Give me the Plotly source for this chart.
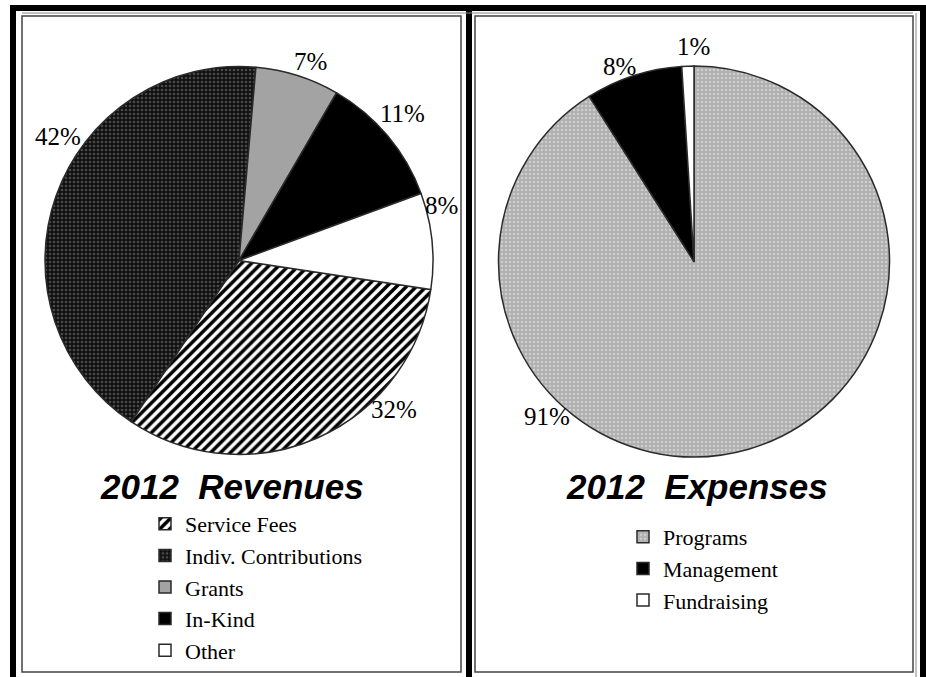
import plotly.graph_objects as go

W, H = 926, 677

# ---- data ----
rev_labels = ["Service Fees", "Indiv. Contributions", "Grants", "In-Kind", "Other"]
rev_values = [32, 42, 7, 11, 8]
exp_labels = ["Programs", "Management", "Fundraising"]
exp_values = [91, 8, 1]
rev_title = "2012  Revenues"
exp_title = "2012  Expenses"

# label placement (pixels from top-left), same order as the values
rev_label_pos = [(394, 410), (58, 136), (310, 62), (402, 113), (441, 206)]
exp_label_pos = [(547, 416), (619, 66), (693, 47)]


def px(x):
    return x / W


def py(y):
    return 1 - y / H


serif = "Liberation Serif"
sans = "Liberation Sans"

fig = go.Figure()

fig.add_trace(go.Pie(
    labels=rev_labels, values=rev_values,
    sort=False, direction="clockwise", rotation=98.6,
    domain=dict(x=[px(45), px(433)], y=[py(455), py(66)]),
    textinfo="none",
    marker=dict(
        colors=["white", "#111111", "#a3a3a3", "black", "white"],
        line=dict(color="#2a2a2a", width=1.5),
        pattern=dict(
            shape=["/", ".", "", "", ""],
            fgcolor=["black", "#4a4a4a", "#a3a3a3", "black", "white"],
            bgcolor=["white", "#111111", "#a3a3a3", "black", "white"],
            size=[7, 4, 8, 8, 8],
            solidity=[0.5, 0.35, 0.3, 0.3, 0.3],
        ),
    ),
    legend="legend", hoverinfo="label+percent",
))

fig.add_trace(go.Pie(
    labels=exp_labels, values=exp_values,
    sort=False, direction="clockwise", rotation=0,
    domain=dict(x=[px(498), px(890)], y=[py(457), py(66)]),
    textinfo="none",
    marker=dict(
        colors=["#b5b5b5", "black", "white"],
        line=dict(color="#2a2a2a", width=1.5),
        pattern=dict(
            shape=[".", "", ""],
            fgcolor=["#cfcfcf", "black", "white"],
            bgcolor=["#b0b0b0", "black", "white"],
            size=[4, 8, 8],
            solidity=[0.3, 0.3, 0.3],
        ),
    ),
    legend="legend2", hoverinfo="label+percent",
))

shapes = []
# thick outer frame
for (x0, y0, x1, y1) in [(10, 5, 926, 11), (10, 5, 16, 690), (920, 5, 926, 690), (466, 5, 472, 690)]:
    shapes.append(dict(type="rect", xref="paper", yref="paper",
                       x0=px(x0), x1=px(x1), y0=py(y1), y1=py(y0),
                       fillcolor="black", line=dict(width=0), layer="above"))
# inner panel frames
for (x0, y0, x1, y1) in [(22, 16, 461, 672), (475, 16, 913, 672)]:
    shapes.append(dict(type="rect", xref="paper", yref="paper",
                       x0=px(x0), x1=px(x1), y0=py(y1), y1=py(y0),
                       fillcolor="rgba(0,0,0,0)", line=dict(color="#444444", width=1.5),
                       layer="above"))
# thin accent lines
for (x0, y0, x1, y1) in [(22, 13, 913, 13), (916, 13, 916, 690)]:
    shapes.append(dict(type="line", xref="paper", yref="paper",
                       x0=px(x0), x1=px(x1), y0=py(y1), y1=py(y0),
                       line=dict(color="#888888", width=1), layer="above"))

annotations = [
    dict(text="<b><i>%s</i></b>" % rev_title, x=px(232), y=py(486), xref="paper", yref="paper",
         showarrow=False, xanchor="center", yanchor="middle",
         font=dict(family=sans, size=35, color="black")),
    dict(text="<b><i>%s</i></b>" % exp_title, x=px(697), y=py(486), xref="paper", yref="paper",
         showarrow=False, xanchor="center", yanchor="middle",
         font=dict(family=sans, size=35, color="black")),
]

for vals, poss in [(rev_values, rev_label_pos), (exp_values, exp_label_pos)]:
    for v, (lx, ly) in zip(vals, poss):
        annotations.append(dict(text="%d%%" % v, x=px(lx), y=py(ly), xref="paper", yref="paper",
                                showarrow=False, xanchor="center", yanchor="middle",
                                font=dict(family=serif, size=25, color="black")))

legend_style = dict(font=dict(family=serif, size=22, color="black"),
                    bgcolor="rgba(0,0,0,0)", borderwidth=0,
                    xanchor="left", yanchor="top", itemclick=False,
                    tracegroupgap=0, itemwidth=30)

fig.update_layout(
    width=W, height=H,
    margin=dict(l=0, r=0, t=0, b=0),
    paper_bgcolor="white", plot_bgcolor="white",
    shapes=shapes, annotations=annotations,
    legend=dict(x=px(145), y=py(503), **legend_style),
    legend2=dict(x=px(623), y=py(516), **legend_style),
    showlegend=True,
)

fig.write_html("out.html", config={"displayModeBar": False},
               post_script="document.body.style.margin='0';")
